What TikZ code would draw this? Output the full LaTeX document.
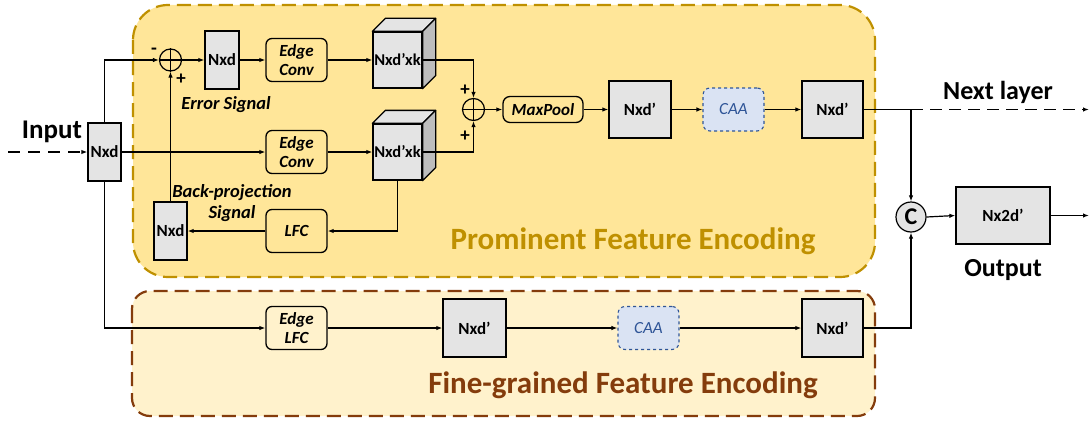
\documentclass[tikz,border=0pt]{standalone}
\usepackage{fontspec}
\setmainfont{Carlito}
\usetikzlibrary{arrows.meta,calc}
\definecolor{goldfill}{HTML}{FFE699}
\definecolor{goldline}{HTML}{BF9000}
\definecolor{creamfill}{HTML}{FFF2CC}
\definecolor{brownline}{HTML}{843C0C}
\definecolor{boxgray}{HTML}{E4E4E4}
\definecolor{sidegray}{HTML}{BDBDBD}
\definecolor{caafill}{HTML}{DAE3F3}
\definecolor{caaline}{HTML}{2F5597}
\begin{document}
\begin{tikzpicture}[x=1pt,y=-1pt,
  >={Latex[length=6pt,width=4.5pt]},
  conn/.style={draw=black,line width=1.2pt,->},
  graybox/.style={draw=black,line width=1.3pt,fill=boxgray,inner sep=0pt,font=\fontsize{17}{20}\selectfont\bfseries},
  opbox/.style={draw=black,line width=1.3pt,rounded corners=6pt,inner sep=0pt,align=center,minimum width=61pt,minimum height=43pt,font=\fontsize{17}{19.5}\selectfont\bfseries\itshape},
  caabox/.style={draw=caaline,dashed,line width=1.1pt,fill=caafill,rounded corners=7pt,minimum width=61pt,minimum height=43pt,inner sep=0pt,text=caaline,font=\fontsize{17}{20}\selectfont\itshape},
  sumnode/.style={circle,draw=black,line width=1.2pt,minimum size=22pt,inner sep=0pt},
  sign/.style={font=\fontsize{19}{19}\selectfont\bfseries,inner sep=0pt},
  lbl/.style={font=\fontsize{18.5}{20}\selectfont\bfseries\itshape,inner sep=0pt,anchor=base},
  big/.style={font=\fontsize{26}{28}\selectfont\bfseries,inner sep=0pt,anchor=base},
  title/.style={font=\fontsize{31}{34}\selectfont\bfseries,inner sep=0pt,anchor=base},
  region/.style={line width=2.2pt,dash pattern=on 14pt off 7pt},
  cubeface/.style={draw=black,line width=1.3pt,line join=round},
]
\useasboundingbox (0,0) rectangle (1091,420);

% regions
\draw[region,draw=goldline,fill=goldfill,rounded corners=35pt] (133,5) rectangle (875,277);
\draw[region,draw=brownline,fill=creamfill,rounded corners=18pt] (132,291) rectangle (875,416);

% top branch
\node[graybox,minimum width=33pt,minimum height=58pt] (in) at (104.5,152) {Nxd};
\node[sumnode] (s1) at (170.5,60) {};
\draw[line width=1.2pt] (s1.north) -- (s1.south) (s1.west) -- (s1.east);
\node[graybox,minimum width=34pt,minimum height=58pt] (n2) at (222,60) {Nxd};
\node[opbox] (ec1) at (296.5,60) {Edge\\Conv};
\node[opbox] (ec2) at (296.5,152) {Edge\\Conv};
\node[opbox] (lfc) at (296.5,231) {LFC};
\node[graybox,minimum width=33pt,minimum height=58pt] (n3) at (170.5,231) {Nxd};

% cubes
\node[graybox,minimum width=49pt,minimum height=56pt,font=\fontsize{16.5}{20}\selectfont\bfseries] (c1) at (397.5,60) {Nxd’xk};
\filldraw[cubeface,fill=boxgray] (c1.north west) -- ++(13,-13) -- ($(c1.north east)+(13,-13)$) -- (c1.north east) -- cycle;
\filldraw[cubeface,fill=sidegray] (c1.north east) -- ++(13,-13) -- ($(c1.south east)+(13,-13)$) -- (c1.south east) -- cycle;
\node[graybox,minimum width=49pt,minimum height=56pt,font=\fontsize{16.5}{20}\selectfont\bfseries] (c2) at (397.5,152) {Nxd’xk};
\filldraw[cubeface,fill=boxgray] (c2.north west) -- ++(13,-13) -- ($(c2.north east)+(13,-13)$) -- (c2.north east) -- cycle;
\filldraw[cubeface,fill=sidegray] (c2.north east) -- ++(13,-13) -- ($(c2.south east)+(13,-13)$) -- (c2.south east) -- cycle;

\node[sumnode] (s2) at (473.5,109.5) {};
\draw[line width=1.2pt] (s2.north) -- (s2.south) (s2.west) -- (s2.east);
\node[opbox,minimum width=80pt,minimum height=26pt,rounded corners=7pt] (mp) at (543,109.5) {MaxPool};
\node[graybox,minimum width=62pt,minimum height=57pt] (np1) at (640,109.5) {Nxd’};
\node[caabox] (caa1) at (733.5,109.5) {CAA};
\node[graybox,minimum width=61pt,minimum height=57pt] (np2) at (832.5,109.5) {Nxd’};

\node[circle,draw=black,fill=boxgray,line width=1.2pt,minimum size=30pt,inner sep=0pt,font=\fontsize{24}{24}\selectfont\bfseries] (cc) at (911,217) {C};
\node[graybox,minimum width=94pt,minimum height=57pt] (nx2) at (1003,215.5) {Nx2d’};

% bottom branch
\node[opbox] (elfc) at (296.5,328) {Edge\\LFC};
\node[graybox,minimum width=63pt,minimum height=58pt] (nb1) at (474.5,328) {Nxd’};
\node[caabox] (caa2) at (648.5,328) {CAA};
\node[graybox,minimum width=61pt,minimum height=58pt] (nb2) at (832.5,328) {Nxd’};

% free ends
\coordinate (inL) at (8,152);
\coordinate (split) at (911,109.5);
\coordinate (nl) at (1089,109.5);
\coordinate (outR) at (1089,215.5);

% connectors
\draw[conn,dash pattern=on 12pt off 8pt] (inL) -- (in.west);
\draw[conn] (in.north) |- (s1.west);
\draw[conn] (s1.east) -- (n2.west);
\draw[conn] (n2.east) -- (ec1.west);
\draw[conn] (ec1.east) -- (c1.west);
\draw[conn] (in.east) -- (ec2.west);
\draw[conn] (ec2.east) -- (c2.west);
\draw[conn] (c1.east) -| (s2.north);
\draw[conn] (c2.east) -| (s2.south);
\draw[conn] (c2.south) |- (lfc.east);
\draw[conn] (lfc.west) -- (n3.east);
\draw[conn] (n3.north) -- (s1.south);
\draw[conn] (s2.east) -- (mp.west);
\draw[conn] (mp.east) -- (np1.west);
\draw[conn] (np1.east) -- (caa1.west);
\draw[conn] (caa1.east) -- (np2.west);
\draw[line width=1.2pt] (np2.east) -- (split);
\draw[conn,dash pattern=on 12pt off 7pt] (split) -- (nl);
\draw[conn] (split) -- (cc.north);
\draw[conn] (cc.east) -- (nx2.west);
\draw[conn] (nx2.east) -- (outR);
\draw[conn] (in.south) |- (elfc.west);
\draw[conn] (elfc.east) -- (nb1.west);
\draw[conn] (nb1.east) -- (caa2.west);
\draw[conn] (caa2.east) -- (nb2.west);
\draw[conn] (nb2.east) -| (cc.south);

% signs
\node[sign] (m1) at (154,51) {-};
\node[sign] (p1) at (181,79) {+};
\node[sign] (p2) at (465,90) {+};
\node[sign] (p3) at (465,136) {+};

% labels
\node[lbl] (err) at (226,109) {Error Signal};
\node[lbl] (bp1) at (232,197) {Back-projection};
\node[lbl] (bp2) at (232,218) {Signal};
\node[big,font=\fontsize{27}{28}\selectfont\bfseries] (inp) at (52,138) {Input};
\node[big] (nxt) at (998,99) {Next layer};
\node[big] (outp) at (1003,276) {Output};
\node[title,text=goldline] (t1) at (633,249) {Prominent Feature Encoding};
\node[title,text=brownline] (t2) at (623,393) {Fine-grained Feature Encoding};
\end{tikzpicture}
\end{document}
